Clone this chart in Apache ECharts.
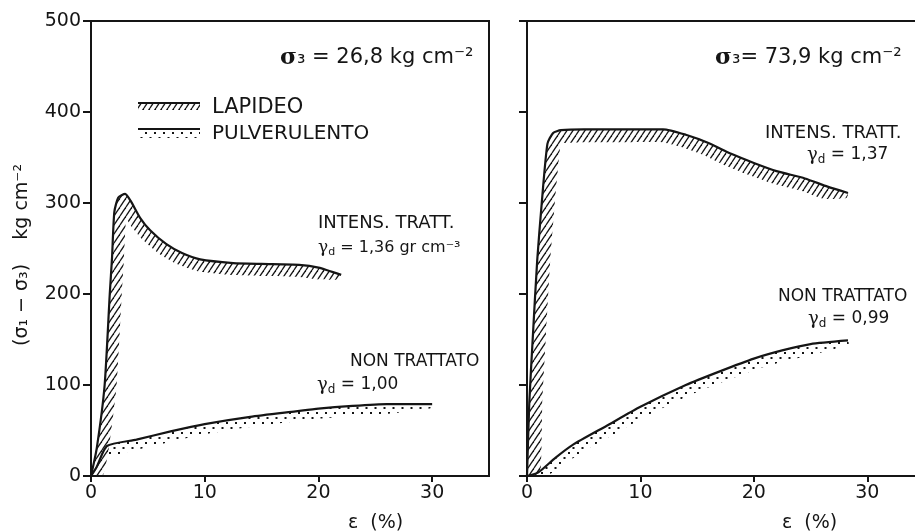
<!DOCTYPE html>
<html>
<head>
<meta charset="utf-8">
<script src="https://cdn.jsdelivr.net/npm/echarts@6/dist/echarts.min.js"></script>
<style>
  html, body { margin: 0; background: #fff; }
  #chart { width: 915px; height: 532px; }
</style>
</head>
<body>
<div id="chart"></div>
<script>
// strain eps (%) against deviator stress (sigma1 - sigma3) in kg cm-2
const strainTicks = [0, 10, 20, 30];
const stressTicks = [0, 100, 200, 300, 400, 500];

// sigma3 = 26,8 kg cm-2
const lapLeftX = [0, 0.5, 1.2, 1.65, 1.85, 2.05, 2.4, 3.0, 3.5, 4.3, 5.2, 6.6, 8, 9.6, 12.5, 15, 18.3, 20, 22];
const lapLeftY = [0, 30, 100, 200, 240, 290, 306, 310, 302, 284, 270, 255, 245, 238, 234, 233, 232, 229, 221];
const pulLeftX = [0, 0.5, 1.4, 4, 7, 10, 14, 18, 20, 23, 26, 30];
const pulLeftY = [0, 10, 33, 40, 49, 57, 65, 71, 74, 77, 79, 79];

// sigma3 = 73,9 kg cm-2
const lapRightX = [0, 0.2, 0.5, 0.9, 1.3, 1.8, 2.3, 3, 5, 8, 12, 14, 16, 18, 20, 22, 24.5, 26.5, 28.3];
const lapRightY = [0, 80, 150, 237, 300, 365, 377, 380, 381, 381, 381, 375, 366, 354, 344, 335, 327, 318, 311];
const pulRightX = [0, 1, 2.5, 4, 7, 10, 14, 17, 20, 22.5, 25, 28.3];
const pulRightY = [0, 4, 20, 34, 55, 76, 100, 115, 129, 138, 145, 149];

const INK = '#151515';
const FONT = '"DejaVu Sans", sans-serif';

function hatchPattern() {
  const w = 6, h = 9;
  const c = document.createElement('canvas');
  c.width = w; c.height = h;
  const g = c.getContext('2d');
  g.strokeStyle = INK;
  g.lineWidth = 1.3;
  for (const k of [-1, 0, 1]) {
    g.beginPath();
    g.moveTo(k * w, h);
    g.lineTo(k * w + w, 0);
    g.stroke();
  }
  return { image: c, repeat: 'repeat' };
}

function dotPattern() {
  const c = document.createElement('canvas');
  c.width = 9; c.height = 10;
  const g = c.getContext('2d');
  g.fillStyle = INK;
  g.fillRect(1, 2, 2, 2);
  g.fillRect(5.5, 7, 2, 2);
  return { image: c, repeat: 'repeat' };
}

const hatch = hatchPattern();
const dots = dotPattern();

function pairs(xs, ys) {
  return xs.map((x, i) => [x, ys[i]]);
}

// shaded strip on the lower/right side of a curve, offset in pixels along the normal
function band(xs, ys, axis, fill, width, from) {
  return {
    type: 'custom',
    xAxisIndex: axis,
    yAxisIndex: axis,
    silent: true,
    clip: true,
    z: 1,
    data: [[xs[0], ys[0]]],
    renderItem(params, api) {
      const base = api.coord([0, 0])[1];
      const pts = xs.slice(from).map((x, i) => api.coord([x, ys[i + from]]));
      const n = pts.length;
      const outer = pts.map((p, i) => {
        const a = pts[Math.max(i - 1, 0)];
        const b = pts[Math.min(i + 1, n - 1)];
        const dx = b[0] - a[0], dy = b[1] - a[1];
        const len = Math.hypot(dx, dy) || 1;
        const k = i === n - 1 ? width * 0.4 : width;
        return [p[0] - dy / len * k, Math.min(p[1] + dx / len * k, base)];
      });
      return {
        type: 'polygon',
        shape: { points: pts.concat(outer.reverse()), smooth: 0.15 },
        style: { fill: fill, stroke: null }
      };
    }
  };
}

function curve(xs, ys, axis) {
  return {
    type: 'line',
    xAxisIndex: axis,
    yAxisIndex: axis,
    data: pairs(xs, ys),
    showSymbol: false,
    smooth: 0.2,
    silent: true,
    z: 3,
    lineStyle: { color: INK, width: 2.2 }
  };
}

function xAxisOf(i) {
  return {
    type: 'value', gridIndex: i, min: 0, max: 35, interval: 10,
    splitLine: { show: false },
    axisLine: { lineStyle: { color: INK, width: 2 } },
    axisTick: { length: 6, lineStyle: { color: INK, width: 2 }, customValues: strainTicks },
    axisLabel: { color: INK, fontFamily: FONT, fontSize: 19, margin: 8, customValues: strainTicks }
  };
}

function yAxisOf(i, labels) {
  return {
    type: 'value', gridIndex: i, min: 0, max: 500, interval: 100,
    splitLine: { show: false },
    axisLine: { lineStyle: { color: INK, width: 2 } },
    axisTick: { length: 8, lineStyle: { color: INK, width: 2 }, customValues: stressTicks },
    axisLabel: { show: labels, color: INK, fontFamily: FONT, fontSize: 19, margin: 10, customValues: stressTicks }
  };
}

function txt(x, y, text, size, extra) {
  return {
    type: 'text', x: x, y: y, z: 10,
    style: Object.assign({
      text: text, fill: INK, font: size + 'px ' + FONT, verticalAlign: 'middle'
    }, extra || {})
  };
}

function gammaRich(size) {
  return {
    g: { fontFamily: 'DejaVu Serif', fontSize: size + 1, color: INK },
    d: { fontFamily: FONT, fontSize: size - 5, color: INK, padding: [9, 0, 0, 0] },
    t: { fontFamily: FONT, fontSize: size, color: INK }
  };
}

function sigmaRich(size) {
  return {
    s: { fontFamily: 'DejaVu Serif', fontWeight: 'bold', fontSize: size + 2, color: INK },
    t: { fontFamily: FONT, fontSize: size, color: INK }
  };
}

const chart = echarts.init(document.getElementById('chart'));

chart.setOption({
  animation: false,
  backgroundColor: '#fff',
  grid: [
    { left: 91, top: 21, width: 398, height: 455, show: true, borderColor: INK, borderWidth: 2, outerBoundsMode: 'none' },
    { left: 527, top: 21, width: 397, height: 455, show: true, borderColor: INK, borderWidth: 2, outerBoundsMode: 'none' }
  ],
  xAxis: [xAxisOf(0), xAxisOf(1)],
  yAxis: [yAxisOf(0, true), yAxisOf(1, false)],
  series: [
    band(lapLeftX, lapLeftY, 0, hatch, 12, 0),
    band(pulLeftX, pulLeftY, 0, dots, 10, 2),
    band(lapRightX, lapRightY, 1, hatch, 13, 0),
    band(pulRightX, pulRightY, 1, dots, 11, 1),
    curve(lapLeftX, lapLeftY, 0),
    curve(pulLeftX, pulLeftY, 0),
    curve(lapRightX, lapRightY, 1),
    curve(pulRightX, pulRightY, 1)
  ],
  graphic: [
    // y axis title
    {
      type: 'text', x: 22, y: 255, rotation: Math.PI / 2, z: 10,
      style: { text: '(σ₁ − σ₃)    kg cm⁻²', fill: INK, font: '19px ' + FONT, align: 'center', verticalAlign: 'middle' }
    },
    txt(348, 523, 'ε  (%)', 19),
    txt(782, 523, 'ε  (%)', 19),

    // legend
    { type: 'line', z: 10, shape: { x1: 138, y1: 103, x2: 200, y2: 103 }, style: { stroke: INK, lineWidth: 2 } },
    { type: 'rect', z: 10, shape: { x: 138, y: 104, width: 62, height: 6 }, style: { fill: hatch } },
    { type: 'line', z: 10, shape: { x1: 138, y1: 129, x2: 200, y2: 129 }, style: { stroke: INK, lineWidth: 2 } },
    { type: 'rect', z: 10, shape: { x: 138, y: 130, width: 62, height: 8 }, style: { fill: dots } },
    txt(212, 108, 'LAPIDEO', 21),
    txt(212, 134, 'PULVERULENTO', 20),

    // panel titles
    txt(280, 58, '{s|σ}{t|₃ = 26,8 kg cm⁻²}', 21, { rich: sigmaRich(21) }),
    txt(715, 58, '{s|σ}{t|₃= 73,9 kg cm⁻²}', 21, { rich: sigmaRich(21) }),

    // curve notes, left
    txt(318, 223, 'INTENS. TRATT.', 18),
    txt(318, 248, '{g|γ}{d|d}{t| = 1,36 gr cm⁻³}', 16, { rich: gammaRich(16) }),
    txt(350, 362, 'NON TRATTATO', 17),
    txt(317, 385, '{g|γ}{d|d}{t| = 1,00}', 17, { rich: gammaRich(17) }),

    // curve notes, right
    txt(765, 133, 'INTENS. TRATT.', 18),
    txt(807, 155, '{g|γ}{d|d}{t| = 1,37}', 17, { rich: gammaRich(17) }),
    txt(778, 297, 'NON TRATTATO', 17),
    txt(808, 319, '{g|γ}{d|d}{t| = 0,99}', 17, { rich: gammaRich(17) })
  ]
});
</script>
</body>
</html>
